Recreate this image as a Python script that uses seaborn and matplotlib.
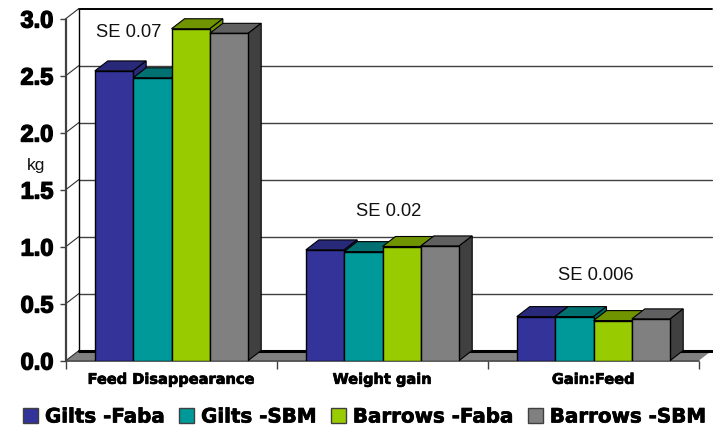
import pandas as pd
import seaborn as sns
import matplotlib.pyplot as plt
import matplotlib.patheffects as pe
from matplotlib.patches import Polygon, Patch

# values
categories = ['Feed Disappearance', 'Weight gain', 'Gain:Feed']
gilts_faba = [2.54, 0.97, 0.385]
gilts_sbm = [2.48, 0.955, 0.385]
barrows_faba = [2.91, 1.00, 0.35]
barrows_sbm = [2.87, 1.005, 0.365]
series_names = ['Gilts -Faba', 'Gilts -SBM', 'Barrows -Faba', 'Barrows -SBM']
y_ticks = [0.0, 0.5, 1.0, 1.5, 2.0, 2.5, 3.0]
se_labels = ['SE 0.07', 'SE 0.02', 'SE 0.006']

front = ['#333399', '#009999', '#99cc00', '#808080']
top = ['#29297a', '#007070', '#6f9400', '#606060']
side = ['#29297a', '#006666', '#6f9400', '#404040']

rows = []
for name, vals in zip(series_names, [gilts_faba, gilts_sbm, barrows_faba, barrows_sbm]):
    for cat, v in zip(categories, vals):
        rows.append({'cat': cat, 'series': name, 'value': v})
df = pd.DataFrame(rows)

sns.set_theme(style='white')
plt.rcParams['font.family'] = ['Liberation Sans', 'DejaVu Sans']

W, H = 713, 427
fig = plt.figure(figsize=(W / 100, H / 100), dpi=100)
ax = fig.add_axes([66 / W, 1 - 361.5 / H, 633 / W, 342 / H])

sns.barplot(data=df, x='cat', y='value', hue='series', palette=front, width=0.727, gap=0,
            saturation=1, errorbar=None, edgecolor='black', linewidth=1, legend=False, ax=ax)
ax.set_xlim(-0.5, 2.5)
ax.set_ylim(0, 3)

# depth of the fake 3d box, in data units
dx = 13 / 211
dy = 10 / 114
x0, x1 = -0.5, 2.5


def poly(pts, fc, z, ec='black', lw=0.8):
    ax.add_patch(Polygon(pts, closed=True, facecolor=fc, edgecolor=ec, linewidth=lw, zorder=z, clip_on=False))


# 3d sides of the bars, built from the bars seaborn drew
bars = []
for k, cont in enumerate(ax.containers):
    for bar in cont:
        bars.append((bar.get_x(), k, bar))
bars.sort(key=lambda b: b[0])
for i, (_, k, bar) in enumerate(bars):
    l, r, h = bar.get_x(), bar.get_x() + bar.get_width(), bar.get_height()
    z = 3 + 2 * i
    bar.set_zorder(z + 1)
    poly([(l, h), (r, h), (r + dx, h + dy), (l + dx, h + dy)], top[k], z)
    poly([(r, 0), (r, h), (r + dx, h + dy), (r + dx, dy)], side[k], z)

# floor and walls
poly([(x0, 0), (x1, 0), (x1 + dx, dy), (x0 + dx, dy)], '#808080', 1, ec='none')
ax.plot([x0 + dx, x1 + dx], [dy, dy], color='black', lw=2.2, zorder=1.5, clip_on=False)
ax.plot([x0, x1], [0, 0], color='#404040', lw=1.2, zorder=1.5, clip_on=False)
ax.plot([x0 + dx, x0 + dx], [dy, 3 + dy], color='black', lw=1, zorder=1.5, clip_on=False)
ax.plot([x0, x0], [0, 3], color='#404040', lw=1.6, zorder=1.5, clip_on=False)
for t in y_ticks[1:]:
    ax.plot([x0 + dx, x1 + dx], [t + dy, t + dy], color='#404040' if t < 3 else 'black',
            lw=1 if t < 3 else 1.4, zorder=1.2, clip_on=False)
for t in y_ticks:
    ax.plot([x0, x0 + dx], [t, t + dy], color='#303030', lw=0.8, zorder=1.3, clip_on=False)

ax.set_xlabel('')
ax.set_ylabel('')
for s in ax.spines.values():
    s.set_visible(False)

ax.set_yticks(y_ticks)
ax.set_yticklabels([f'{t:.1f}' for t in y_ticks], fontsize=17, fontweight='bold', color='black')
ax.set_xticks([-0.5, 0.5, 1.5, 2.5])
ax.set_xticklabels([])
ax.tick_params(axis='y', length=4, width=1, color='#404040', pad=5, left=True)
ax.tick_params(axis='x', length=6, width=1, color='#404040', bottom=True)
stroke = [pe.withStroke(linewidth=1.0, foreground='black')]
for lab in ax.get_yticklabels():
    lab.set_path_effects(stroke)
for i, cat in enumerate(categories):
    ax.text(i, -0.165, cat, ha='center', va='center', fontsize=10.5, fontweight='bold',
            family='DejaVu Sans', color='black',
            path_effects=[pe.withStroke(linewidth=0.5, foreground='black')])

ax.text(-0.5 - 30 / 211, 1.72, 'kg', ha='center', va='center', fontsize=12.5, color='#111111')
se_x = [-0.205, 1.03, 2.01]
se_y = [2.885, 1.32, 0.75]
for x, y, lab in zip(se_x, se_y, se_labels):
    ax.text(x, y, lab, ha='center', va='center', fontsize=13.2, color='#111111', zorder=30)

handles = [Patch(facecolor=c, edgecolor='#404040', linewidth=1) for c in front]
leg = fig.legend(handles, series_names, loc='center left', bbox_to_anchor=(8 / W, 1 - 418 / H), ncol=4, frameon=False,
                 handlelength=0.75, handleheight=0.75, handletextpad=0.36, columnspacing=0.7, borderpad=0.25,
                 labelcolor='black', prop={'size': 14.3, 'weight': 'bold', 'family': 'DejaVu Sans'})
for t in leg.get_texts():
    t.set_path_effects([pe.withStroke(linewidth=0.5, foreground='black')])

fig.savefig('out.png', dpi=100)
